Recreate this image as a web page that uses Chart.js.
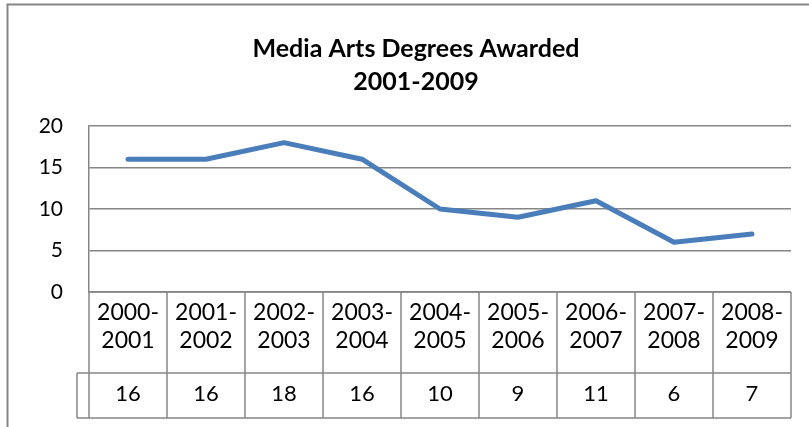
<!DOCTYPE html>
<html>
<head>
<meta charset="utf-8">
<title>Media Arts Degrees Awarded</title>
<script src="https://cdn.jsdelivr.net/npm/chart.js@4.4.1/dist/chart.umd.min.js"></script>
<style>
  html, body { margin: 0; padding: 0; background: #fff; }
  #wrap { width: 809px; height: 427px; position: relative; }
</style>
</head>
<body>
<div id="wrap"><canvas id="degreesChart"></canvas></div>
<script>
// chart data
var titleLines = ['Media Arts Degrees Awarded', '2001-2009'];
var yearStart = ['2000-', '2001-', '2002-', '2003-', '2004-', '2005-', '2006-', '2007-', '2008-'];
var yearEnd = ['2001', '2002', '2003', '2004', '2005', '2006', '2007', '2008', '2009'];
var degrees = [16, 16, 18, 16, 10, 9, 11, 6, 7];
var yTicks = [0, 5, 10, 15, 20];

var gray = '#868686';
var fontFamily = 'Lato, "Open Sans", sans-serif';

// Excel style frame, title and data table underneath the plot
var excelFrame = {
  id: 'excelFrame',
  afterDraw: function(chart) {
    var ctx = chart.ctx;
    var area = chart.chartArea;
    var xScale = chart.scales.x;
    var n = yearStart.length;
    var half = (xScale.getPixelForValue(1) - xScale.getPixelForValue(0)) / 2;
    var rowTop = area.bottom;
    var rowMid = area.bottom + 81;
    var rowBot = area.bottom + 126;

    ctx.save();

    // outer chart border (left + top only visible)
    ctx.strokeStyle = gray;
    ctx.lineWidth = 2;
    ctx.beginPath();
    ctx.moveTo(7.5, chart.height);
    ctx.lineTo(7.5, 4.5);
    ctx.lineTo(chart.width, 4.5);
    ctx.stroke();

    // title
    ctx.fillStyle = '#000';
    ctx.textAlign = 'center';
    ctx.textBaseline = 'alphabetic';
    ctx.font = 'bold 25px ' + fontFamily;
    ctx.fillText(titleLines[0], 416, 57);
    ctx.fillText(titleLines[1], 416, 90);

    // table grid
    ctx.lineWidth = 1.5;
    ctx.beginPath();
    ctx.moveTo(area.left, rowTop);
    ctx.lineTo(area.right, rowTop);
    ctx.moveTo(area.left - 12, rowMid);
    ctx.lineTo(area.right, rowMid);
    ctx.moveTo(area.left - 12, rowBot);
    ctx.lineTo(area.right, rowBot);
    ctx.moveTo(area.left - 12, rowMid);
    ctx.lineTo(area.left - 12, rowBot);
    for (var i = 0; i <= n; i++) {
      var bx = xScale.getPixelForValue(0) - half + i * 2 * half;
      ctx.moveTo(bx, rowTop);
      ctx.lineTo(bx, rowBot);
    }
    ctx.stroke();

    // table text
    ctx.fillStyle = '#000';
    for (var j = 0; j < n; j++) {
      var cx = xScale.getPixelForValue(j);
      ctx.font = '23px ' + fontFamily;
      ctx.fillText(yearStart[j], cx, rowTop + 28);
      ctx.fillText(yearEnd[j], cx, rowTop + 56);
      ctx.font = '22px ' + fontFamily;
      ctx.fillText(String(degrees[j]), cx, rowMid + 27.5);
    }
    ctx.restore();
  }
};

new Chart(document.getElementById('degreesChart'), {
  type: 'line',
  data: {
    labels: yearEnd.map(function(e, i) { return yearStart[i] + e; }),
    datasets: [{
      label: 'Degrees',
      data: degrees,
      borderColor: '#4a7ebb',
      borderWidth: 5,
      borderCapStyle: 'round',
      borderJoinStyle: 'round',
      pointRadius: 0,
      tension: 0,
      fill: false
    }]
  },
  options: {
    responsive: true,
    maintainAspectRatio: false,
    animation: false,
    layout: {
      padding: { top: 126, right: 18, bottom: 0, left: 0 }
    },
    plugins: {
      legend: { display: false },
      title: { display: false },
      tooltip: { enabled: false }
    },
    scales: {
      x: {
        type: 'category',
        offset: true,
        grid: { display: false },
        border: { display: false },
        ticks: { display: false },
        afterFit: function(scale) { scale.height = 135; }
      },
      y: {
        min: yTicks[0],
        max: yTicks[yTicks.length - 1],
        afterBuildTicks: function(scale) {
          scale.ticks = yTicks.map(function(v) { return { value: v }; });
        },
        grid: { color: gray, lineWidth: 1.5, drawTicks: false },
        border: { display: true, color: gray, width: 1.5 },
        ticks: {
          padding: 26,
          color: '#000',
          font: { family: fontFamily, size: 21 }
        },
        afterFit: function(scale) { scale.width = 89; }
      }
    }
  },
  plugins: [excelFrame]
});
</script>
</body>
</html>
